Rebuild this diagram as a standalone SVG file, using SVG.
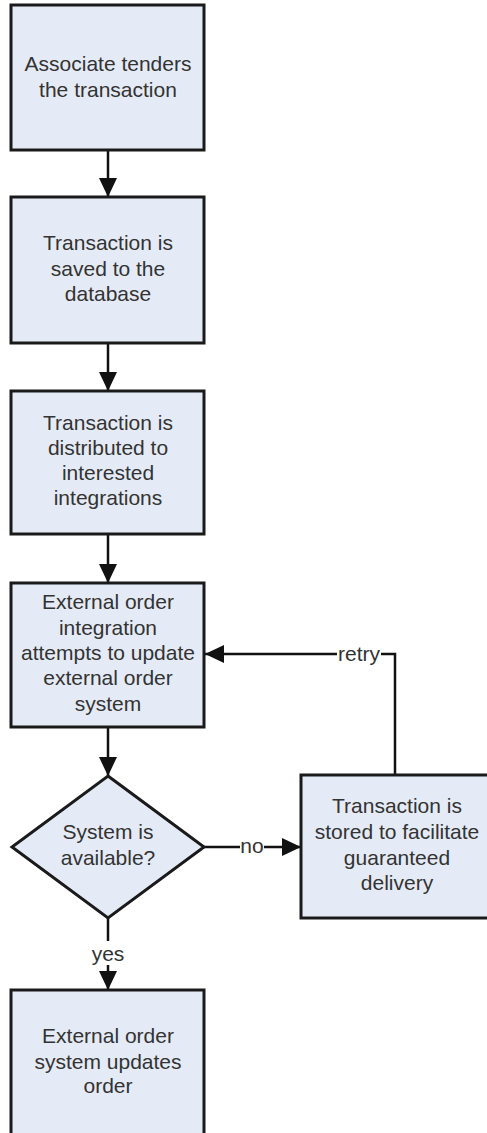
<svg xmlns="http://www.w3.org/2000/svg" width="487" height="1133" viewBox="0 0 487 1133">
  <style>
    .box { fill: #E5EBF6; stroke: #1a1a1a; stroke-width: 3; }
    .txt { font-family: "Liberation Sans", Arial, sans-serif; font-size: 21px; fill: #333333; text-anchor: middle; }
    .conn { fill: none; stroke: #111111; stroke-width: 2.5; }
    .lblbg { fill: #ffffff; }
  </style>
  <defs>
    <marker id="arrow" markerUnits="userSpaceOnUse" markerWidth="20" markerHeight="18" refX="19" refY="9" orient="auto">
      <path d="M0,0 L19,9 L0,18 z" fill="#111111"/>
    </marker>
  </defs>
  <rect x="0" y="0" width="487" height="1133" fill="#ffffff"/>

  <g id="connectors">
    <path class="conn" d="M108,150 L108,197" marker-end="url(#arrow)"/>
    <path class="conn" d="M108,343 L108,391" marker-end="url(#arrow)"/>
    <path class="conn" d="M108,534 L108,583" marker-end="url(#arrow)"/>
    <path class="conn" d="M108,727 L108,776" marker-end="url(#arrow)"/>
    <path class="conn" d="M204,847 L301,847" marker-end="url(#arrow)"/>
    <path class="conn" d="M108,918 L108,990" marker-end="url(#arrow)"/>
    <path class="conn" d="M395,775 L395,654 L205,654" marker-end="url(#arrow)"/>
    <rect class="lblbg" x="240" y="836" width="24" height="22"/>
    <text class="txt" x="252" y="853">no</text>
    <rect class="lblbg" x="90" y="941" width="36" height="24"/>
    <text class="txt" x="108" y="961">yes</text>
    <rect class="lblbg" x="337" y="643" width="44" height="22"/>
    <text class="txt" x="359" y="661">retry</text>
  </g>

  <g id="n1">
    <rect class="box" x="11" y="5" width="193" height="145"/>
    <text class="txt"><tspan x="108" y="71">Associate tenders</tspan><tspan x="108" y="97">the transaction</tspan></text>
  </g>
  <g id="n2">
    <rect class="box" x="11" y="197" width="193" height="146"/>
    <text class="txt"><tspan x="108" y="250">Transaction is</tspan><tspan x="108" y="276">saved to the</tspan><tspan x="108" y="301">database</tspan></text>
  </g>
  <g id="n3">
    <rect class="box" x="11" y="391" width="193" height="143"/>
    <text class="txt"><tspan x="108" y="430">Transaction is</tspan><tspan x="108" y="455">distributed to</tspan><tspan x="108" y="480">interested</tspan><tspan x="108" y="505">integrations</tspan></text>
  </g>
  <g id="n4">
    <rect class="box" x="11" y="583" width="193" height="144"/>
    <text class="txt"><tspan x="108" y="609">External order</tspan><tspan x="108" y="635">integration</tspan><tspan x="108" y="660">attempts to update</tspan><tspan x="108" y="685">external order</tspan><tspan x="108" y="711">system</tspan></text>
  </g>
  <g id="n5">
    <polygon class="box" points="108,776 204,847 108,918 12,847"/>
    <text class="txt"><tspan x="108" y="839">System is</tspan><tspan x="108" y="865">available?</tspan></text>
  </g>
  <g id="n6">
    <rect class="box" x="301" y="775" width="191" height="143"/>
    <text class="txt"><tspan x="397" y="813">Transaction is</tspan><tspan x="397" y="839">stored to facilitate</tspan><tspan x="397" y="865">guaranteed</tspan><tspan x="397" y="890">delivery</tspan></text>
  </g>
  <g id="n7">
    <rect class="box" x="11" y="990" width="193" height="150"/>
    <text class="txt"><tspan x="108" y="1043">External order</tspan><tspan x="108" y="1069">system updates</tspan><tspan x="108" y="1093">order</tspan></text>
  </g>
</svg>
